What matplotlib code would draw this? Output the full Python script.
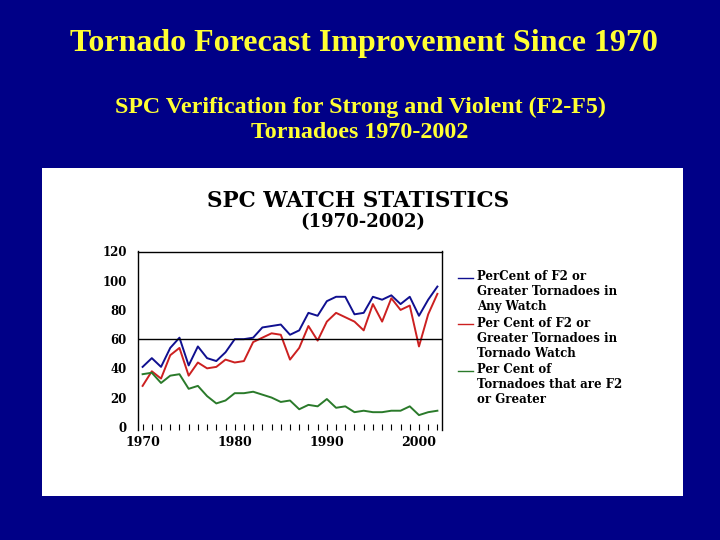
import numpy as np
import matplotlib
matplotlib.use("Agg")
import matplotlib.pyplot as plt
from matplotlib.patches import Rectangle
from matplotlib.legend_handler import HandlerLine2D

# values
years = list(range(1970, 2003))
any_watch = [41, 47, 41, 54, 61, 42, 55, 47, 45, 51, 60, 60, 61, 68, 69, 70, 63, 66,
             78, 76, 86, 89, 89, 77, 78, 89, 87, 90, 84, 89, 76, 87, 96]
tornado_watch = [28, 38, 33, 49, 54, 35, 44, 40, 41, 46, 44, 45, 58, 61, 64, 63, 46, 54,
                 69, 59, 72, 78, 75, 72, 66, 84, 72, 88, 80, 83, 55, 77, 91]
pct_strong = [36, 37, 30, 35, 36, 26, 28, 21, 16, 18, 23, 23, 24, 22, 20, 17, 18, 12,
              15, 14, 19, 13, 14, 10, 11, 10, 10, 11, 11, 14, 8, 10, 11]
series_labels = ["PerCent of F2 or\nGreater Tornadoes in\nAny Watch",
                 "Per Cent of F2 or\nGreater Tornadoes in\nTornado Watch",
                 "Per Cent of\nTornadoes that are F2\nor Greater"]
y_ticks = [0, 20, 40, 60, 80, 100, 120]
x_labels = [1970, 1980, 1990, 2000]

serif = "Liberation Serif"
wide = "DejaVu Serif"
navy = "#000087"
yellow = "#FFFF33"
leg_size = 8.5


class TopLineHandler(HandlerLine2D):
    # put the legend line next to the first text line instead of the middle one
    def create_artists(self, legend, orig_handle, xdescent, ydescent, width, height,
                       fontsize, trans):
        artists = super().create_artists(legend, orig_handle, xdescent, ydescent,
                                         width, height, fontsize, trans)
        for a in artists:
            a.set_ydata(np.asarray(a.get_ydata()) + 1.25 * fontsize)
        return artists


fig = plt.figure(figsize=(7.2, 5.4), dpi=100)
fig.patch.set_facecolor(navy)

# white panel behind the chart
fig.patches.append(Rectangle((42 / 720, 1 - 496 / 540), 641 / 720, 328 / 540,
                             transform=fig.transFigure, facecolor="white",
                             edgecolor="none", zorder=-10))

fig.text(0.506, 1 - 43 / 540, "Tornado Forecast Improvement Since 1970", color=yellow,
         fontsize=23, fontweight="bold", family=serif, ha="center", va="center")
fig.text(0.5, 1 - 107 / 540, "SPC Verification for Strong and Violent (F2-F5)",
         color=yellow, fontsize=17.3, fontweight="bold", family=serif, ha="center", va="center")
fig.text(0.5, 1 - 133 / 540, "Tornadoes 1970-2002",
         color=yellow, fontsize=17.3, fontweight="bold", family=serif, ha="center", va="center")

fig.text(358 / 720, 1 - 201 / 540, "SPC WATCH STATISTICS", fontsize=15.5, fontweight="bold",
         family=wide, ha="center", va="center")
fig.text(363 / 720, 1 - 222 / 540, "(1970-2002)", fontsize=13, fontweight="bold",
         family=wide, ha="center", va="center")

ax = fig.add_axes([138 / 720, 1 - 430 / 540, 304 / 720, 178.5 / 540])
ax.set_facecolor("white")
l1, = ax.plot(years, any_watch, color="#101090", lw=1.4)
l2, = ax.plot(years, tornado_watch, color="#CC2020", lw=1.4)
l3, = ax.plot(years, pct_strong, color="#2A7A2A", lw=1.4)
ax.axhline(60, color="black", lw=1.0)

ax.set_xlim(1969.5, 2002.5)
ax.set_ylim(-2.2, 120)
ax.set_yticks(y_ticks)
ax.set_yticklabels([str(v) for v in y_ticks], family=wide, fontweight="bold", fontsize=8.5)
ax.set_xticks(years)
ax.set_xticklabels([str(y) if y in x_labels else "" for y in years], family=wide,
                   fontweight="bold", fontsize=9)
ax.tick_params(axis="y", length=0, pad=8)
ax.tick_params(axis="x", length=4, width=0.8, direction="in", pad=4)
ax.spines["bottom"].set_visible(False)
for s in ["left", "right", "top"]:
    ax.spines[s].set_linewidth(1.0)

leg = fig.legend([l1, l2, l3], series_labels, loc="upper left",
                 bbox_to_anchor=(458 / 720, 1 - 270 / 540), frameon=False,
                 prop={"family": wide, "weight": "bold", "size": leg_size},
                 handlelength=1.3, handletextpad=0.3, labelspacing=0.3,
                 borderaxespad=0, borderpad=0,
                 handler_map={l1: TopLineHandler(), l2: TopLineHandler(),
                              l3: TopLineHandler()})
for line in leg.get_lines():
    line.set_linewidth(1.0)

fig.savefig("out.png", dpi=100, facecolor=fig.get_facecolor())
